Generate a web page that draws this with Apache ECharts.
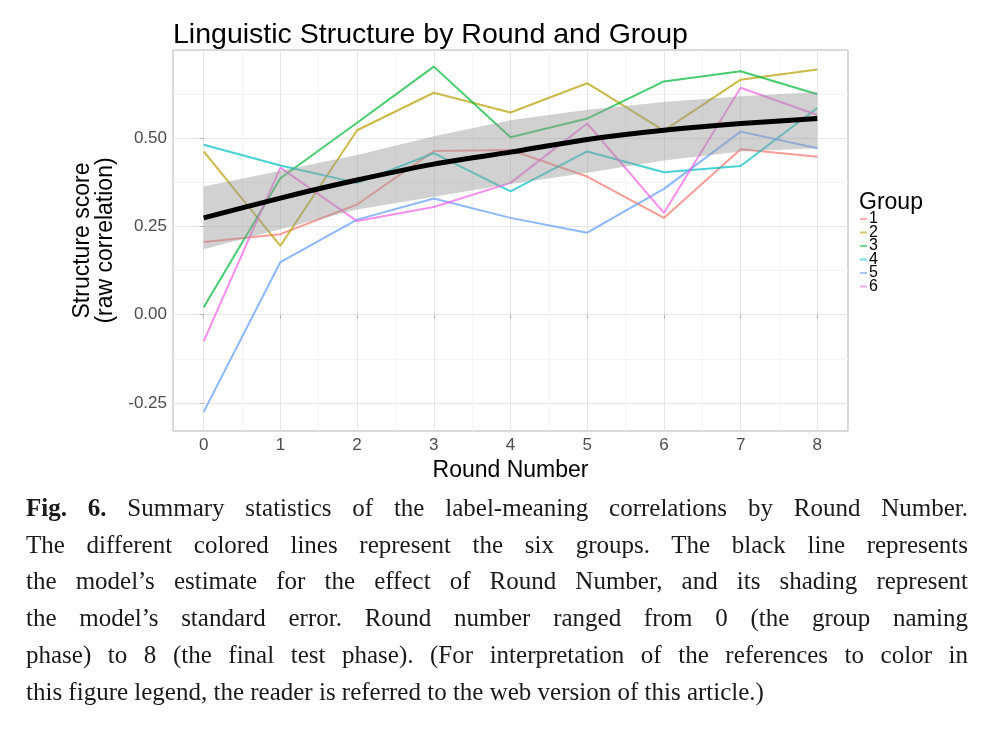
<!DOCTYPE html>
<html>
<head>
<meta charset="utf-8">
<script src="https://cdn.jsdelivr.net/npm/echarts@6/dist/echarts.min.js"></script>
<style>
  html, body { margin: 0; padding: 0; background: #ffffff; }
  #chart { position: absolute; left: 0; top: 0; width: 988px; height: 739px; }
  #caption { position: absolute; left: 26px; top: 490px; width: 942px;
    font-family: "Liberation Serif", "DejaVu Serif", serif; font-size: 25px; line-height: 36.7px; color: #1a1a1a; }
  #caption div { white-space: nowrap; text-align: justify; text-align-last: justify; }
  #caption div.last { text-align-last: left; }
</style>
</head>
<body>
<div id="chart"></div>
<div id="caption"></div>
<script>
// ---- data ----
const rounds = [0, 1, 2, 3, 4, 5, 6, 7, 8];
const groupNames = ['1', '2', '3', '4', '5', '6'];
const group1 = [0.206, 0.228, 0.312, 0.463, 0.466, 0.391, 0.274, 0.468, 0.447];
const group2 = [0.462, 0.195, 0.522, 0.628, 0.572, 0.655, 0.521, 0.665, 0.694];
const group3 = [0.021, 0.386, 0.543, 0.702, 0.502, 0.555, 0.660, 0.689, 0.624];
const group4 = [0.481, 0.422, 0.373, 0.457, 0.349, 0.462, 0.403, 0.421, 0.585];
const group5 = [-0.275, 0.149, 0.269, 0.329, 0.274, 0.232, 0.356, 0.518, 0.471];
const group6 = [-0.075, 0.416, 0.265, 0.305, 0.373, 0.541, 0.288, 0.642, 0.565];
const modelFit = [0.274, 0.330, 0.381, 0.426, 0.460, 0.496, 0.522, 0.541, 0.555];
const bandLower = [0.185, 0.242, 0.298, 0.334, 0.370, 0.402, 0.436, 0.462, 0.471];
const bandUpper = [0.363, 0.407, 0.452, 0.505, 0.550, 0.580, 0.602, 0.618, 0.630];
const xTicks = [0, 1, 2, 3, 4, 5, 6, 7, 8];
const xMinorTicks = [0.5, 1.5, 2.5, 3.5, 4.5, 5.5, 6.5, 7.5];
const yTicks = [-0.25, 0, 0.25, 0.5];
const yMinorTicks = [-0.125, 0.125, 0.375, 0.625];
const captionLines = [
  '<b>Fig. 6.</b> Summary statistics of the label-meaning correlations by Round Number.',
  'The different colored lines represent the six groups. The black line represents',
  'the model\u2019s estimate for the effect of Round Number, and its shading represent',
  'the model\u2019s standard error. Round number ranged from 0 (the group naming',
  'phase) to 8 (the final test phase). (For interpretation of the references to color in',
  'this figure legend, the reader is referred to the web version of this article.)'
];

// ---- caption ----
const cap = document.getElementById('caption');
captionLines.forEach((t, i) => {
  const d = document.createElement('div');
  d.innerHTML = t;
  if (i === captionLines.length - 1) d.className = 'last';
  cap.appendChild(d);
});

// ---- chart ----
const groups = [group1, group2, group3, group4, group5, group6];
const colors = ['#F8766D', '#B79F00', '#00BA38', '#00BFC4', '#619CFF', '#F564E3'];
const pairs = arr => rounds.map((r, i) => [r, arr[i]]);
const font = '"Liberation Sans", Arial, sans-serif';

const series = groups.map((g, k) => ({
  name: groupNames[k],
  type: 'line',
  data: pairs(g),
  symbol: 'none',
  color: colors[k],
  lineStyle: { width: 2, color: colors[k], opacity: 0.72 },
  z: 2
}));
series.push({
  name: 'se', type: 'custom', silent: true, z: 3,
  data: rounds.map((r, i) => [r, bandLower[i], bandUpper[i]]),
  encode: { x: 0, y: [1, 2] },
  renderItem: function (params, api) {
    if (params.dataIndexInside !== 0) return null;
    const n = params.dataInsideLength;
    const pts = [];
    for (let i = 0; i < n; i++) pts.push(api.coord([api.value(0, i), api.value(2, i)]));
    for (let i = n - 1; i >= 0; i--) pts.push(api.coord([api.value(0, i), api.value(1, i)]));
    return { type: 'polygon', shape: { points: pts },
      style: { fill: 'rgba(153,153,153,0.45)', stroke: null } };
  }
});
series.push({
  name: 'fit', type: 'line', data: pairs(modelFit), symbol: 'none', smooth: 0.25,
  lineStyle: { width: 5, color: '#000000' }, silent: true, z: 4
});

const chart = echarts.init(document.getElementById('chart'), null, { renderer: 'canvas' });
chart.setOption({
  animation: false,
  backgroundColor: '#ffffff',
  textStyle: { fontFamily: font },
  title: [
    { text: 'Linguistic Structure by Round and Group', left: 173, top: 21, padding: 0,
      textStyle: { fontSize: 28.5, fontWeight: 'normal', color: '#000000', fontFamily: font } },
    { text: 'Group', left: 859, top: 191, padding: 0,
      textStyle: { fontSize: 23, fontWeight: 'normal', color: '#000000', fontFamily: font } }
  ],
  legend: {
    data: groupNames, orient: 'vertical', left: 860, top: 211, padding: 0,
    itemWidth: 7, itemHeight: 2, itemGap: -2.5, icon: 'rect',
    itemStyle: { opacity: 0.55 },
    textStyle: { fontSize: 16, color: '#000000', fontFamily: font, padding: [0, 0, 0, -3] }
  },
  grid: { left: 173, right: 140, top: 50, bottom: 308, show: true,
    borderColor: '#B3B3B3', borderWidth: 1, backgroundColor: '#ffffff' },
  xAxis: [
    { type: 'value', min: -0.4, max: 8.4,
      name: 'Round Number', nameLocation: 'middle', nameGap: 19,
      nameTextStyle: { fontSize: 23, color: '#000000', fontFamily: font },
      axisLine: { show: false },
      axisTick: { show: true, length: 4, customValues: xTicks, lineStyle: { color: '#B3B3B3' } },
      axisLabel: { customValues: xTicks, fontSize: 17, color: '#4D4D4D', margin: 6 },
      splitLine: { show: true, lineStyle: { color: '#E6E6E6', width: 1 } }
    },
    { type: 'value', min: -0.4, max: 8.4, position: 'bottom',
      axisLine: { show: false },
      axisTick: { show: false, customValues: xMinorTicks },
      axisLabel: { show: false, customValues: xMinorTicks },
      splitLine: { show: true, lineStyle: { color: '#F4F4F4', width: 1 } }
    }
  ],
  yAxis: [
    { type: 'value', min: -0.329, max: 0.749,
      name: 'Structure score\n(raw correlation)', nameLocation: 'middle', nameGap: 56, nameRotate: 90,
      nameTextStyle: { fontSize: 23, lineHeight: 23, color: '#000000', fontFamily: font },
      axisLine: { show: false },
      axisTick: { show: true, length: 4, customValues: yTicks, lineStyle: { color: '#B3B3B3' } },
      axisLabel: { customValues: yTicks, fontSize: 17, color: '#4D4D4D', margin: 6,
        formatter: v => v.toFixed(2) },
      splitLine: { show: true, lineStyle: { color: '#E6E6E6', width: 1 } }
    },
    { type: 'value', min: -0.329, max: 0.749, position: 'left',
      axisLine: { show: false },
      axisTick: { show: false, customValues: yMinorTicks },
      axisLabel: { show: false, customValues: yMinorTicks },
      splitLine: { show: true, lineStyle: { color: '#F4F4F4', width: 1 } }
    }
  ],
  series: series
});
</script>
</body>
</html>
